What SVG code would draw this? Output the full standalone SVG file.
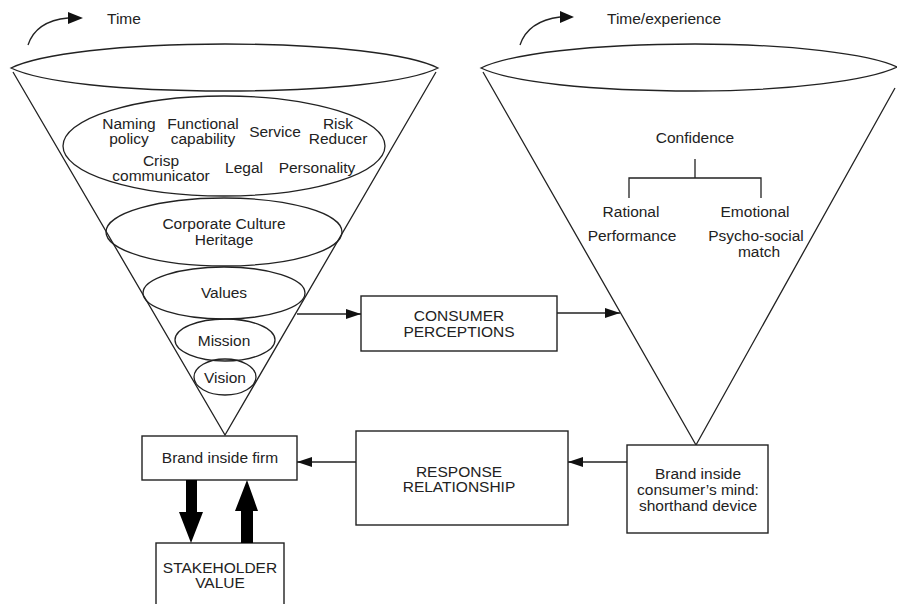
<svg xmlns="http://www.w3.org/2000/svg" width="897" height="604" viewBox="0 0 897 604">
<defs>
<style>
.s{fill:none;stroke:#222;stroke-width:1.3}
.b{fill:#fff;stroke:#222;stroke-width:1.4}
.t{font-family:"Liberation Sans",Arial,sans-serif;font-size:15.5px;fill:#222;text-anchor:middle}
.tl{font-family:"Liberation Sans",Arial,sans-serif;font-size:15.5px;fill:#222}
</style>
<marker id="ah" markerWidth="15" markerHeight="10" refX="15" refY="5" orient="auto" markerUnits="userSpaceOnUse">
<path d="M0,0 L15,5 L0,10 Z" fill="#111"/>
</marker>
</defs>
<rect width="897" height="604" fill="#fff"/>

<g id="time-left">
<path class="s" d="M28,45 Q36,21 68,18"/>
<path d="M68,12 L83,18 L68,24 Z" fill="#111"/>
<text class="tl" x="107" y="24">Time</text>
</g>
<g id="time-right">
<path class="s" d="M520,45 Q528,21 560,17"/>
<path d="M560,11 L574,17 L560,23 Z" fill="#111"/>
<text class="tl" x="607" y="24">Time/experience</text>
</g>

<g id="left-cone">
<path class="s" d="M13,72 L225,435 L436,72"/>
<path class="s" d="M11,68 C40,54 120,44 225,44 C330,44 410,54 438,68 C410,82 330,91 225,91 C120,91 40,82 11,68 Z"/>
</g>
<g id="attributes">
<ellipse class="s" cx="224" cy="146" rx="161" ry="50"/>
<text class="t" x="129" y="129">Naming</text>
<text class="t" x="129" y="144">policy</text>
<text class="t" x="203" y="129">Functional</text>
<text class="t" x="203" y="144">capability</text>
<text class="t" x="275" y="137">Service</text>
<text class="t" x="338" y="129">Risk</text>
<text class="t" x="338" y="144">Reducer</text>
<text class="t" x="161" y="166">Crisp</text>
<text class="t" x="161" y="181">communicator</text>
<text class="t" x="244" y="173">Legal</text>
<text class="t" x="317" y="173">Personality</text>
</g>
<g id="culture">
<ellipse class="s" cx="224" cy="232" rx="118" ry="34"/>
<text class="t" x="224" y="229">Corporate Culture</text>
<text class="t" x="224" y="245">Heritage</text>
</g>
<g id="values">
<ellipse class="s" cx="224" cy="293" rx="81" ry="26"/>
<text class="t" x="224" y="298">Values</text>
</g>
<g id="mission">
<ellipse class="s" cx="225" cy="340" rx="50" ry="21"/>
<text class="t" x="224" y="346">Mission</text>
</g>
<g id="vision">
<ellipse class="s" cx="225" cy="377" rx="31" ry="18"/>
<text class="t" x="225" y="383">Vision</text>
</g>

<g id="right-cone">
<path class="s" d="M483,72 L696,445 L895,88"/>
<path class="s" d="M481,68 C510,54 590,44 695,44 C790,44 870,54 897,67 C870,80 790,91 695,91 C590,91 510,82 481,68 Z"/>
</g>
<g id="confidence">
<text class="t" x="695" y="143">Confidence</text>
<path class="s" d="M695,159 V178 M629,198 V178 H761 V198"/>
<text class="t" x="631" y="217">Rational</text>
<text class="t" x="755" y="217">Emotional</text>
<text class="t" x="632" y="241">Performance</text>
<text class="t" x="756" y="241">Psycho-social</text>
<text class="t" x="759" y="257">match</text>
</g>

<g id="consumer-perceptions">
<rect class="b" x="361" y="296" width="196" height="55"/>
<text class="t" x="459" y="321">CONSUMER</text>
<text class="t" x="459" y="337">PERCEPTIONS</text>
</g>
<g id="brand-inside-firm">
<rect class="b" x="142" y="436" width="155" height="44"/>
<text class="t" x="220" y="463">Brand inside firm</text>
</g>
<g id="response-relationship">
<rect class="b" x="356" y="431" width="212" height="94"/>
<text class="t" x="459" y="477">RESPONSE</text>
<text class="t" x="459" y="492">RELATIONSHIP</text>
</g>
<g id="brand-consumer-mind">
<rect class="b" x="627" y="445" width="141" height="88"/>
<text class="t" x="698" y="479">Brand inside</text>
<text class="t" x="698" y="495">consumer’s mind:</text>
<text class="t" x="698" y="511">shorthand device</text>
</g>
<g id="stakeholder-value">
<rect class="b" x="156" y="543" width="128" height="70"/>
<text class="t" x="220" y="573">STAKEHOLDER</text>
<text class="t" x="220" y="588">VALUE</text>
</g>

<g id="connectors">
<line class="s" x1="297" y1="314" x2="361" y2="314" marker-end="url(#ah)"/>
<line class="s" x1="557" y1="313" x2="620" y2="313" marker-end="url(#ah)"/>
<line class="s" x1="356" y1="462" x2="297" y2="462" marker-end="url(#ah)"/>
<line class="s" x1="627" y1="462" x2="568" y2="462" marker-end="url(#ah)"/>
<path d="M186,480 H197 V512 H203 L191,543 L179,512 H186 Z" fill="#000"/>
<path d="M241,543 V511 H235 L247,480 L258,511 H253 V543 Z" fill="#000"/>
</g>
</svg>
